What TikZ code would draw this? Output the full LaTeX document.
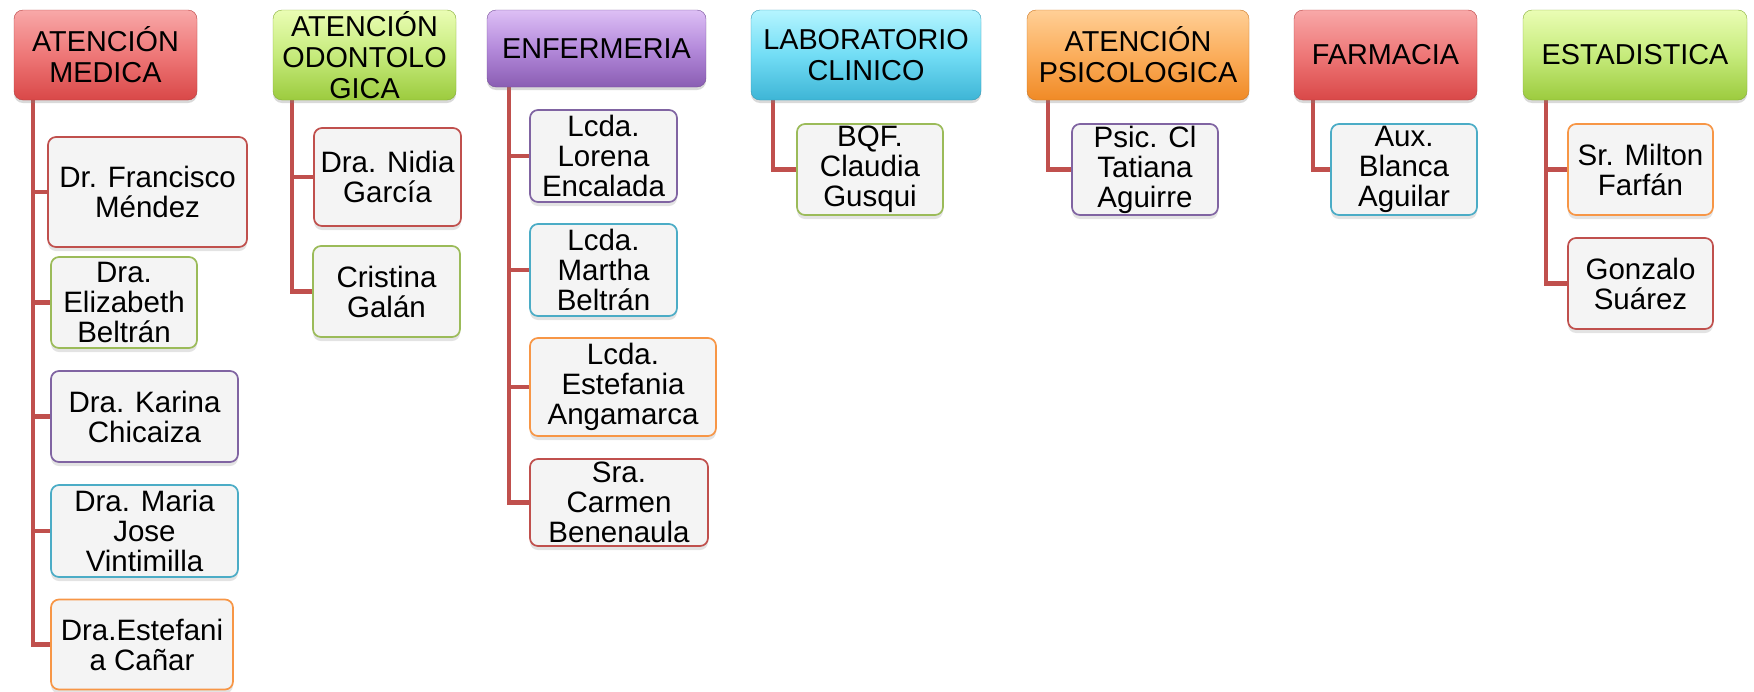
\documentclass[tikz,border=0pt]{standalone}
\usepackage{fontspec}
\setmainfont{Liberation Sans}
\usetikzlibrary{shadows,backgrounds}
\definecolor{bRed}{HTML}{C0504D}
\definecolor{bGreen}{HTML}{9BBB59}
\definecolor{bPurple}{HTML}{8064A2}
\definecolor{bBlue}{HTML}{4BACC6}
\definecolor{bOrange}{HTML}{F79646}
\definecolor{kidFill}{HTML}{F4F4F4}
\definecolor{connRed}{HTML}{C0504D}
\definecolor{rTop}{HTML}{F8A8A8}\definecolor{rMid}{HTML}{EE7777}\definecolor{rBot}{HTML}{D94848}
\definecolor{gTop}{HTML}{EAFDB4}\definecolor{gMid}{HTML}{C6EB7C}\definecolor{gBot}{HTML}{9CCB3E}
\definecolor{pTop}{HTML}{DDBFF5}\definecolor{pMid}{HTML}{B48ADB}\definecolor{pBot}{HTML}{8A5DB3}
\definecolor{cTop}{HTML}{B5F5FF}\definecolor{cMid}{HTML}{72DDF5}\definecolor{cBot}{HTML}{3EB5D6}
\definecolor{oTop}{HTML}{FFCF96}\definecolor{oMid}{HTML}{FBAE5C}\definecolor{oBot}{HTML}{F08A26}
\newcommand\hdrfont{\fontsize{28.8}{31}\selectfont}
\newcommand\kidfont{\fontsize{29.5}{30}\selectfont}
\tikzset{
  hdr/.style={rounded corners=9pt, inner sep=0pt, align=center, font=\hdrfont,
    drop shadow={shadow xshift=0pt, shadow yshift=-3pt, opacity=.3}},
  hred/.style={hdr, top color=rTop, bottom color=rBot, middle color=rMid, draw=rBot!85!black, line width=.4pt},
  hgreen/.style={hdr, top color=gTop, bottom color=gBot, middle color=gMid, draw=gBot!85!black, line width=.4pt},
  hpurple/.style={hdr, top color=pTop, bottom color=pBot, middle color=pMid, draw=pBot!85!black, line width=.4pt},
  hcyan/.style={hdr, top color=cTop, bottom color=cBot, middle color=cMid, draw=cBot!85!black, line width=.4pt},
  horange/.style={hdr, top color=oTop, bottom color=oBot, middle color=oMid, draw=oBot!85!black, line width=.4pt},
  kid/.style={rounded corners=8pt, draw=#1, line width=1.7pt, fill=kidFill, inner sep=0pt,
    align=center, font=\kidfont,
    drop shadow={shadow xshift=0pt, shadow yshift=-4pt, opacity=.22}},
  conn/.style={draw=connRed, line width=4.5pt, line join=miter}
}
\begin{document}
\begin{tikzpicture}[x=1pt,y=-1pt]
\useasboundingbox (0,0) rectangle (1754,691);
% headers
\node[hred,    minimum width=183pt, minimum height=90pt] (h1) at (105.5,55) {ATENCIÓN\\MEDICA};
\node[hgreen,  minimum width=183pt, minimum height=90pt] (h2) at (364.5,55) {ATENCIÓN\\ODONTOLO\\GICA};
\node[hpurple, minimum width=219pt, minimum height=77pt] (h3) at (596.5,48.5) {ENFERMERIA};
\node[hcyan,   minimum width=230pt, minimum height=90pt] (h4) at (866,55) {LABORATORIO\\CLINICO};
\node[horange, minimum width=222pt, minimum height=90pt] (h5) at (1138,55) {ATENCIÓN\\PSICOLOGICA};
\node[hred,    minimum width=183pt, minimum height=90pt] (h6) at (1385.5,55) {FARMACIA};
\node[hgreen,  minimum width=224pt, minimum height=90pt] (h7) at (1635,55) {ESTADISTICA};
% children
\node[kid=bRed,    minimum width=199pt, minimum height=110pt] (c11) at (147.5,192) {Dr. Francisco\\Méndez};
\node[kid=bGreen,  minimum width=146pt, minimum height=91pt] (c12) at (124,302.5) {Dra.\\Elizabeth\\Beltrán};
\node[kid=bPurple, minimum width=187pt, minimum height=91pt] (c13) at (144.5,416.5) {Dra. Karina\\Chicaiza};
\node[kid=bBlue,   minimum width=187pt, minimum height=92pt] (c14) at (144.5,531) {Dra. Maria\\Jose\\Vintimilla};
\node[kid=bOrange, minimum width=182pt, minimum height=90pt] (c15) at (142,644.5) {Dra.Estefani\\a Cañar};
\node[kid=bRed,    minimum width=147pt, minimum height=98pt] (c21) at (387.5,177) {Dra. Nidia\\García};
\node[kid=bGreen,  minimum width=147pt, minimum height=91pt] (c22) at (386.5,291.5) {Cristina\\Galán};
\node[kid=bPurple, minimum width=147pt, minimum height=92pt] (c31) at (603.5,156) {Lcda.\\Lorena\\Encalada};
\node[kid=bBlue,   minimum width=147pt, minimum height=92pt] (c32) at (603.5,270) {Lcda.\\Martha\\Beltrán};
\node[kid=bOrange, minimum width=186pt, minimum height=98pt] (c33) at (623,387) {Lcda.\\Estefania\\Angamarca};
\node[kid=bRed,    minimum width=178pt, minimum height=87pt] (c34) at (619,502.5) {Sra.\\Carmen\\Benenaula};
\node[kid=bGreen,  minimum width=146pt, minimum height=91pt] (c41) at (870,169.5) {BQF.\\Claudia\\Gusqui};
\node[kid=bPurple, minimum width=146pt, minimum height=91pt] (c51) at (1145,169.5) {Psic. Cl\\Tatiana\\Aguirre};
\node[kid=bBlue,   minimum width=146pt, minimum height=91pt] (c61) at (1404,169.5) {Aux.\\Blanca\\Aguilar};
\node[kid=bOrange, minimum width=145pt, minimum height=91pt] (c71) at (1640.5,169.5) {Sr. Milton\\Farfán};
\node[kid=bRed,    minimum width=145pt, minimum height=91pt] (c72) at (1640.5,283.5) {Gonzalo\\Suárez};
% connectors
\begin{scope}[on background layer]
\foreach \c in {c11,c12,c13,c14,c15} \draw[conn] ([xshift=19pt]h1.south west) |- (\c.west);
\foreach \c in {c21,c22} \draw[conn] ([xshift=19pt]h2.south west) |- (\c.west);
\foreach \c in {c31,c32,c33,c34} \draw[conn] ([xshift=22pt]h3.south west) |- (\c.west);
\draw[conn] ([xshift=22pt]h4.south west) |- (c41.west);
\draw[conn] ([xshift=21pt]h5.south west) |- (c51.west);
\draw[conn] ([xshift=19pt]h6.south west) |- (c61.west);
\foreach \c in {c71,c72} \draw[conn] ([xshift=23pt]h7.south west) |- (\c.west);
\end{scope}
\end{tikzpicture}
\end{document}
